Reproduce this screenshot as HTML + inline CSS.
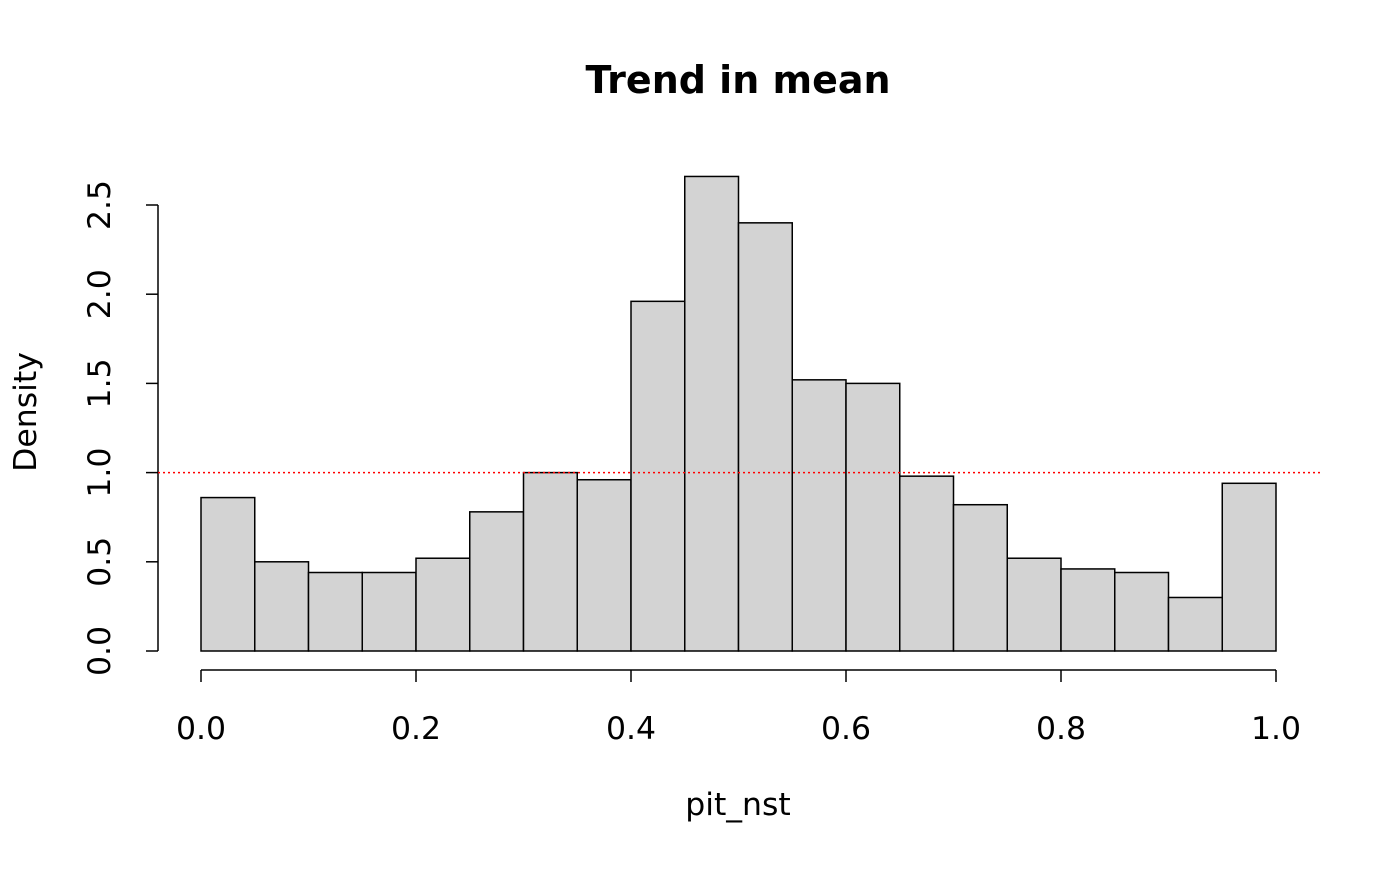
<!DOCTYPE html>
<html><head><meta charset="utf-8"><style>
html,body{margin:0;padding:0;background:#fff;}
svg text{font-family:"DejaVu Sans","Liberation Sans",sans-serif;fill:#000;}
</style></head><body>
<svg id="chart" width="1400" height="866" xmlns="http://www.w3.org/2000/svg">
<text x="738" y="93" text-anchor="middle" font-size="38" font-weight="bold">Trend in mean</text>
<text x="738" y="815" text-anchor="middle" font-size="31.5">pit_nst</text>
<text transform="translate(36,412) rotate(-90)" text-anchor="middle" font-size="31.5">Density</text>
<g id="bars"></g>
<g id="xaxis"></g>
<g id="yaxis"></g>
<g id="ref"></g>
</svg>
<script>
const binEdges = [0,0.05,0.1,0.15,0.2,0.25,0.3,0.35,0.4,0.45,0.5,0.55,0.6,0.65,0.7,0.75,0.8,0.85,0.9,0.95,1.0];
const densities = [0.86,0.50,0.44,0.44,0.52,0.78,1.00,0.96,1.96,2.66,2.40,1.52,1.50,0.98,0.82,0.52,0.46,0.44,0.30,0.94];
const xTicks = [0,0.2,0.4,0.6,0.8,1.0];
const xTickLabels = ["0.0","0.2","0.4","0.6","0.8","1.0"];
const yTicks = [0,0.5,1.0,1.5,2.0,2.5];
const yTickLabels = ["0.0","0.5","1.0","1.5","2.0","2.5"];
const refValue = 1.0;

const NS="http://www.w3.org/2000/svg";
const sx=v=>201+v*1075;
const sy=v=>651-v*178.4;
function mk(tag,attrs,parent){const e=document.createElementNS(NS,tag);for(const k in attrs)e.setAttribute(k,attrs[k]);parent.appendChild(e);return e;}
const bars=document.getElementById('bars');
densities.forEach((d,i)=>{
  const x0=sx(binEdges[i]),x1=sx(binEdges[i+1]);
  const r=mk('rect',{x:x0,y:sy(d),width:x1-x0,height:sy(0)-sy(d),fill:'#d3d3d3',stroke:'#000','stroke-width':1.5},bars);
  
  
});
const xa=document.getElementById('xaxis');
const xl=mk('line',{x1:sx(xTicks[0]),x2:sx(xTicks[xTicks.length-1]),y1:670,y2:670,stroke:'#000','stroke-width':1.5},xa);


xTicks.forEach((t,i)=>{
  mk('line',{x1:sx(t),x2:sx(t),y1:670,y2:682,stroke:'#000','stroke-width':1.5},xa);
  const tx=mk('text',{x:sx(t),y:739,'text-anchor':'middle','font-size':31.5},xa);
  tx.textContent=xTickLabels[i];
  
  
});
const ya=document.getElementById('yaxis');
const yl=mk('line',{x1:158,x2:158,y1:sy(yTicks[0]),y2:sy(yTicks[yTicks.length-1]),stroke:'#000','stroke-width':1.5},ya);


yTicks.forEach((t,i)=>{
  mk('line',{x1:146,x2:158,y1:sy(t),y2:sy(t),stroke:'#000','stroke-width':1.5},ya);
  const tx=mk('text',{transform:'translate(110,'+sy(t)+') rotate(-90)','text-anchor':'middle','font-size':31.5},ya);
  tx.textContent=yTickLabels[i];
  
  
});
const rl=mk('line',{x1:158,x2:1321,y1:sy(refValue),y2:sy(refValue),stroke:'#ff0000','stroke-width':1.5,'stroke-dasharray':'2,3'},document.getElementById('ref'));


</script>
</body></html>
